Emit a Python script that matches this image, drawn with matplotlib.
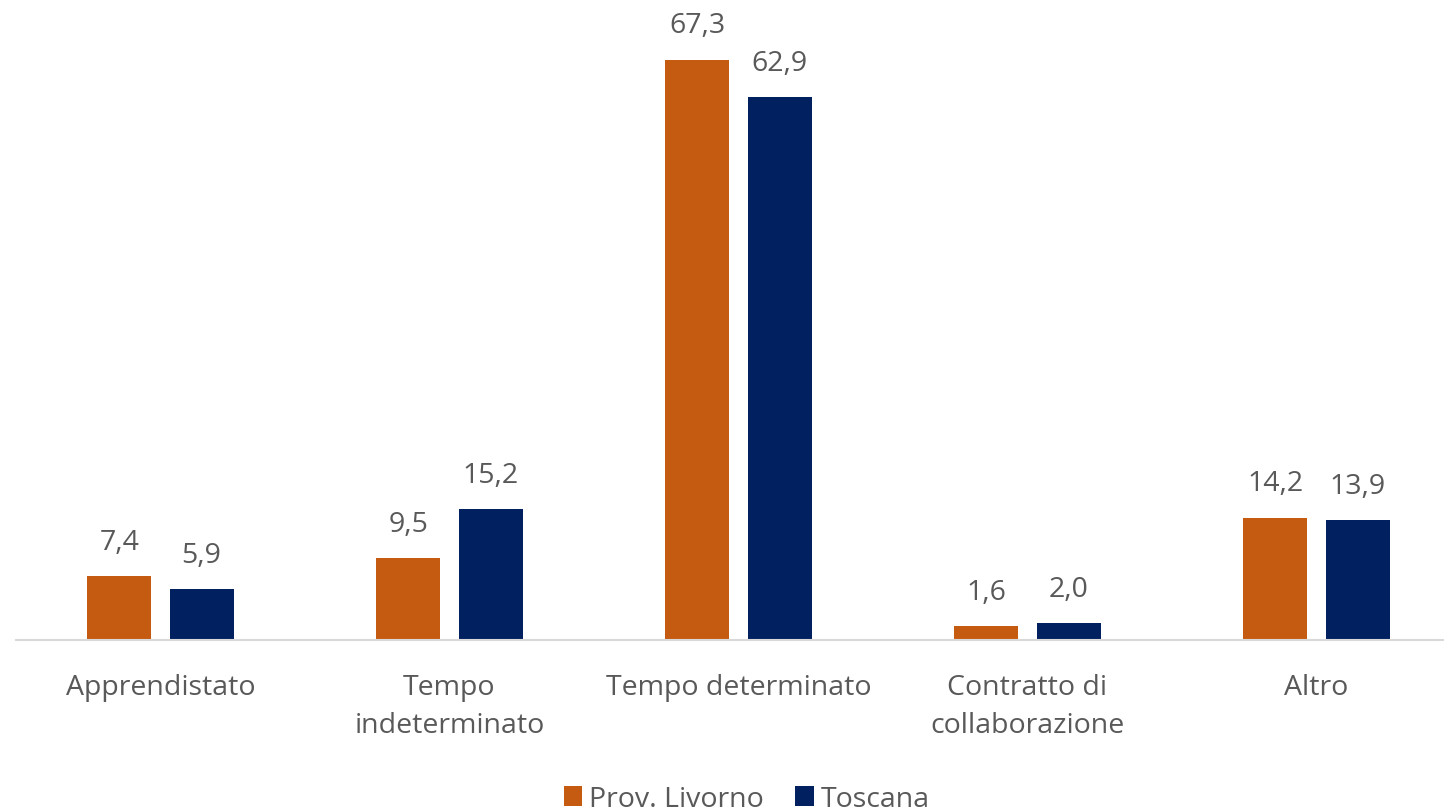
import matplotlib
matplotlib.use("Agg")
import matplotlib.pyplot as plt
import numpy as np

categories = ["Apprendistato", "Tempo\nindeterminato", "Tempo determinato",
              "Contratto di\ncollaborazione", "Altro"]
livorno = [7.4, 9.5, 67.3, 1.6, 14.2]
toscana = [5.9, 15.2, 62.9, 2.0, 13.9]
series_names = ["Prov. Livorno", "Toscana"]
colors = ["#C55A11", "#002060"]

plt.rcParams['font.family'] = ['Open Sans', 'DejaVu Sans']
W, H = 1444, 812
fig = plt.figure(figsize=(W / 100, H / 100), dpi=100)
ax = fig.add_axes([16 / W, (H - 641) / H, 1445 / W, 621 / H])

x = np.arange(len(categories))
bw = 0.2215
off = 0.1419
b1 = ax.bar(x - off, livorno, bw, color=colors[0], label=series_names[0])
b2 = ax.bar(x + off, toscana, bw, color=colors[1], label=series_names[1])

txt = "#595959"
fs = 20.5
for bars, vals in ((b1, livorno), (b2, toscana)):
    for r, v in zip(bars, vals):
        ax.annotate(f"{v:.1f}".replace(".", ","),
                    (r.get_x() + r.get_width() / 2, v),
                    xytext=(0, 19.5), textcoords="offset points",
                    ha="center", va="baseline", fontsize=fs, color=txt)

ax.set_xlim(-0.5, 4.5)
ax.set_ylim(0, 72)
ax.set_yticks([])
for s in ["top", "right", "left"]:
    ax.spines[s].set_visible(False)
ax.spines["bottom"].set_color("#D9D9D9")
ax.spines["bottom"].set_linewidth(1.5)
ax.set_xticks(x)
ax.set_xticklabels(categories, fontsize=fs, color=txt, linespacing=1.45)
ax.tick_params(axis="x", length=0, pad=24)

leg = fig.legend(handles=[b1, b2], labels=series_names, loc="center",
                 bbox_to_anchor=(747 / W, 1 - 800 / H), ncol=2, frameon=False,
                 fontsize=fs, handlelength=0.65, handleheight=0.65,
                 handletextpad=0.25, columnspacing=1.1, labelcolor=txt)

fig.savefig("out.png", dpi=100)
